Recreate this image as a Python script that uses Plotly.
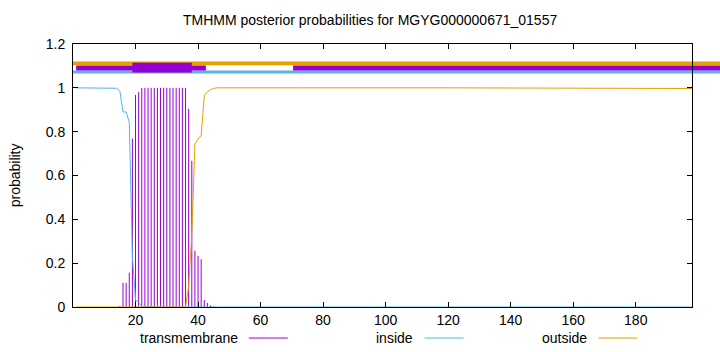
import plotly.graph_objects as go

# ---------------- data ----------------
seq_len = 198
x_ticks = [20, 40, 60, 80, 100, 120, 140, 160, 180]
y_ticks = [0, 0.2, 0.4, 0.6, 0.8, 1.0, 1.2]

# transmembrane posterior probability (impulses), residues 14..46
tm_pos = list(range(14, 47))
tm_prob = [0.0, 0.005, 0.11, 0.11, 0.157, 0.769, 0.968, 0.98,
           1.0, 1.0, 1.0, 1.0, 1.0, 1.0, 1.0, 1.0, 1.0, 1.0, 1.0, 1.0, 1.0, 1.0, 1.0,
           0.904, 0.667, 0.256, 0.233, 0.218, 0.032, 0.018, 0.008, 0.003, 0.0]

# inside probability (line)
inside_pos = [1, 14, 15, 16, 17, 18, 19, 20, 21, 22, 23, 30, 198]
inside_prob = [1.0, 0.998, 0.985, 0.89, 0.89, 0.843, 0.231, 0.032, 0.02, 0.005, 0.002, 0.0, 0.0]

# outside probability (line)
outside_pos = [1, 36, 37, 38, 39, 40, 41, 42, 43, 44, 45, 46, 120, 198]
outside_prob = [0.0, 0.0, 0.096, 0.333, 0.744, 0.767, 0.782, 0.966, 0.982, 0.992, 0.997, 1.0, 1.0, 0.997]

# predicted topology bars at top
tm_segment = (19, 38)
purple_band_segments = [(1, 42.5), (70.4, seq_len)]

title = "TMHMM posterior probabilities for MGYG000000671_01557"
legend_names = ["transmembrane", "inside", "outside"]

# ---------------- style ----------------
C_TM = "#9400d3"
C_IN = "#56b4e9"
C_OUT = "#e69f00"
FONT = "Liberation Sans"
X_MAX = 198.0
Y_MAX = 1.2

fig = go.Figure()

# impulses: vertical line from 0 to value at each residue
imp_x, imp_y = [], []
for p, v in zip(tm_pos, tm_prob):
    imp_x += [p, p, None]
    imp_y += [0, v, None]
fig.add_trace(go.Scatter(x=imp_x, y=imp_y, mode="lines",
                         line=dict(color=C_TM, width=1), showlegend=False))
fig.add_trace(go.Scatter(x=inside_pos, y=inside_prob, mode="lines",
                         line=dict(color=C_IN, width=1), showlegend=False))
fig.add_trace(go.Scatter(x=outside_pos, y=outside_prob, mode="lines",
                         line=dict(color=C_OUT, width=1), showlegend=False))


def px(x):
    return x / X_MAX


def py(y):
    return y / Y_MAX


shapes = []
# outside band (full width, extends past the right axis)
shapes.append(dict(type="rect", xref="paper", yref="paper", x0=0, x1=1.1,
                   y0=py(1.103), y1=py(1.120), fillcolor=C_OUT, line=dict(width=0),
                   layer="below"))
# inside band
shapes.append(dict(type="rect", xref="paper", yref="paper", x0=0, x1=1.1,
                   y0=py(1.065), y1=py(1.079), fillcolor=C_IN, line=dict(width=0),
                   layer="below"))
# purple band segments
for i, (a, b) in enumerate(purple_band_segments):
    x1 = 1.1 if i == len(purple_band_segments) - 1 else px(b)
    shapes.append(dict(type="rect", xref="paper", yref="paper", x0=px(a), x1=x1,
                       y0=py(1.079), y1=py(1.102), fillcolor=C_TM, line=dict(width=0),
                       layer="below"))
# TM segment box
shapes.append(dict(type="rect", xref="paper", yref="paper", x0=px(tm_segment[0]),
                   x1=px(tm_segment[1]), y0=py(1.070), y1=py(1.114),
                   fillcolor=C_TM, line=dict(width=0), layer="below"))

# legend samples (gnuplot style: text then line)
legend_text_right = [0.269, 0.553, 0.834]
legend_colors = [C_TM, C_IN, C_OUT]
ly = -0.118
annotations = []
for name, xr, col in zip(legend_names, legend_text_right, legend_colors):
    annotations.append(dict(text=name, x=xr, y=ly, xref="paper", yref="paper",
                            xanchor="right", yanchor="middle", showarrow=False,
                            font=dict(family=FONT, size=14, color="black")))
    shapes.append(dict(type="line", xref="paper", yref="paper",
                       x0=xr + 0.015, x1=xr + 0.078, y0=ly, y1=ly,
                       line=dict(color=col, width=1)))

annotations.append(dict(text="probability", x=-0.094, y=0.5, xref="paper", yref="paper",
                        textangle=-90, xanchor="center", yanchor="middle", showarrow=False,
                        font=dict(family=FONT, size=14, color="black")))

fig.update_layout(
    width=720, height=352,
    margin=dict(l=73, r=28, t=44, b=45),
    paper_bgcolor="white", plot_bgcolor="rgba(0,0,0,0)",
    font=dict(family=FONT, size=14, color="black"),
    title=dict(text=title, x=0.514, xref="container", xanchor="center",
               y=1 - 20 / 352, yref="container", yanchor="middle",
               font=dict(family=FONT, size=14, color="black")),
    shapes=shapes, annotations=annotations, showlegend=False,
)
fig.update_xaxes(range=[0, X_MAX], tickvals=x_ticks, ticks="inside", ticklen=5,
                 tickcolor="black", showline=True, linecolor="black", linewidth=1,
                 mirror="allticks", showgrid=False, zeroline=False)
fig.update_yaxes(range=[0, Y_MAX], tickvals=y_ticks, ticks="inside", ticklen=5,
                 tickcolor="black", showline=True, linecolor="black", linewidth=1,
                 mirror="allticks", showgrid=False, zeroline=False,
                 ticklabelstandoff=4)

fig.write_html("out.html")
